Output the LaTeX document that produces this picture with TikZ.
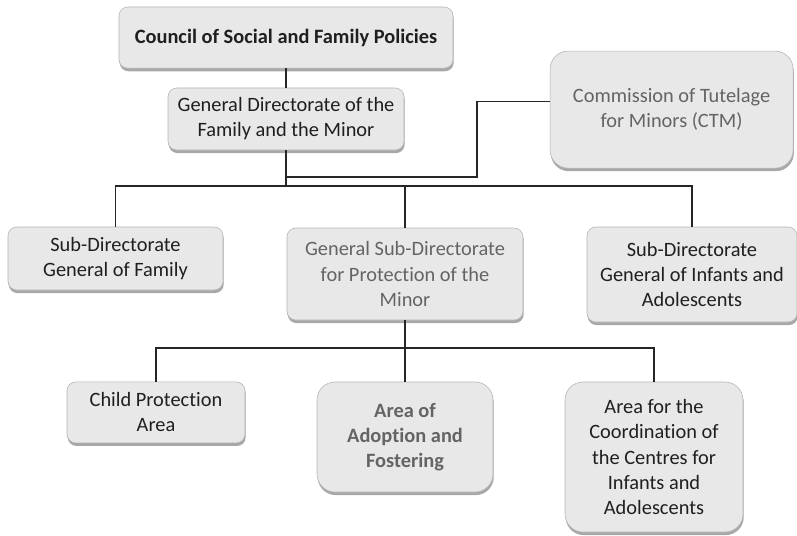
\documentclass[tikz,border=0pt]{standalone}
\usepackage{fontspec}
\setmainfont{Carlito}[Ligatures=NoCommon]
\usetikzlibrary{positioning,shadows}

\definecolor{boxfill}{HTML}{E8E8E8}
\definecolor{boxline}{HTML}{B4B4B4}
\definecolor{boxshadow}{HTML}{A8A8A8}
\definecolor{greytext}{HTML}{646464}

\begin{document}
\begin{tikzpicture}[
    font=\fontsize{14.5}{17.8}\selectfont,
    unit/.style={draw=boxline, fill=boxfill, rounded corners=0.22cm, align=center, text=black!88, inner sep=2pt,
        drop shadow={shadow xshift=0.5pt, shadow yshift=-2.2pt, fill=boxshadow, opacity=1}},
    bigunit/.style={unit, rounded corners=0.45cm},
    faded/.style={text=greytext},
    link/.style={draw=black!85, line width=0.75pt}
]
\useasboundingbox (0,0) rectangle (19.925,-13.4);

% Define units
\node[unit, minimum width=8.35cm, minimum height=1.53cm] (council) at (7.15,-0.94) {\bfseries Council of Social and Family Policies};
\node[unit, minimum width=5.9cm, minimum height=1.55cm] (gd) at (7.15,-2.975) {General Directorate of the\\Family and the Minor};
\node[bigunit, faded, minimum width=6.075cm, minimum height=2.925cm] (ctm) at (16.79,-2.74) {Commission of Tutelage\\for Minors (CTM)};

\node[unit, minimum width=5.375cm, minimum height=1.575cm] (fam) at (2.8875,-6.4625) {Sub-Directorate\\General of Family};
\node[unit, faded, minimum width=5.9cm, minimum height=2.3cm] (prot) at (10.125,-6.85) {General Sub-Directorate\\for Protection of the\\Minor};
\node[unit, minimum width=5.25cm, minimum height=2.375cm] (inf) at (17.3,-6.8625) {Sub-Directorate\\General of Infants and\\Adolescents};

\node[unit, minimum width=4.45cm, minimum height=1.525cm] (child) at (3.9,-10.31) {Child Protection\\Area};
\node[bigunit, faded, minimum width=4.4cm, minimum height=2.75cm] (adopt) at (10.125,-10.925) {\bfseries Area of\\\bfseries Adoption and\\\bfseries Fostering};
\node[bigunit, minimum width=4.45cm, minimum height=3.75cm] (coord) at (16.35,-11.425) {Area for the\\Coordination of\\the Centres for\\Infants and\\Adolescents};

% Bus points
\coordinate (bus1) at (7.15,-4.65);
\coordinate (join) at (7.15,-4.425);
\coordinate (bend) at (11.925,-4.425);
\coordinate (bus2) at (10.125,-8.7);

% Draw connectors
\draw[link] (council) -- (gd);
\draw[link] (gd) -- (bus1);
\draw[link] ([yshift=0.2cm]ctm.west) -| (bend) -- (join);
\foreach \u in {fam, inf} {
    \draw[link] (bus1) -| (\u.north);
}
\draw[link] (bus1) -| (prot.north);
\draw[link] (prot) -- (bus2);
\foreach \u in {child, adopt, coord} {
    \draw[link] (bus2) -| (\u.north);
}

\end{tikzpicture}
\end{document}
